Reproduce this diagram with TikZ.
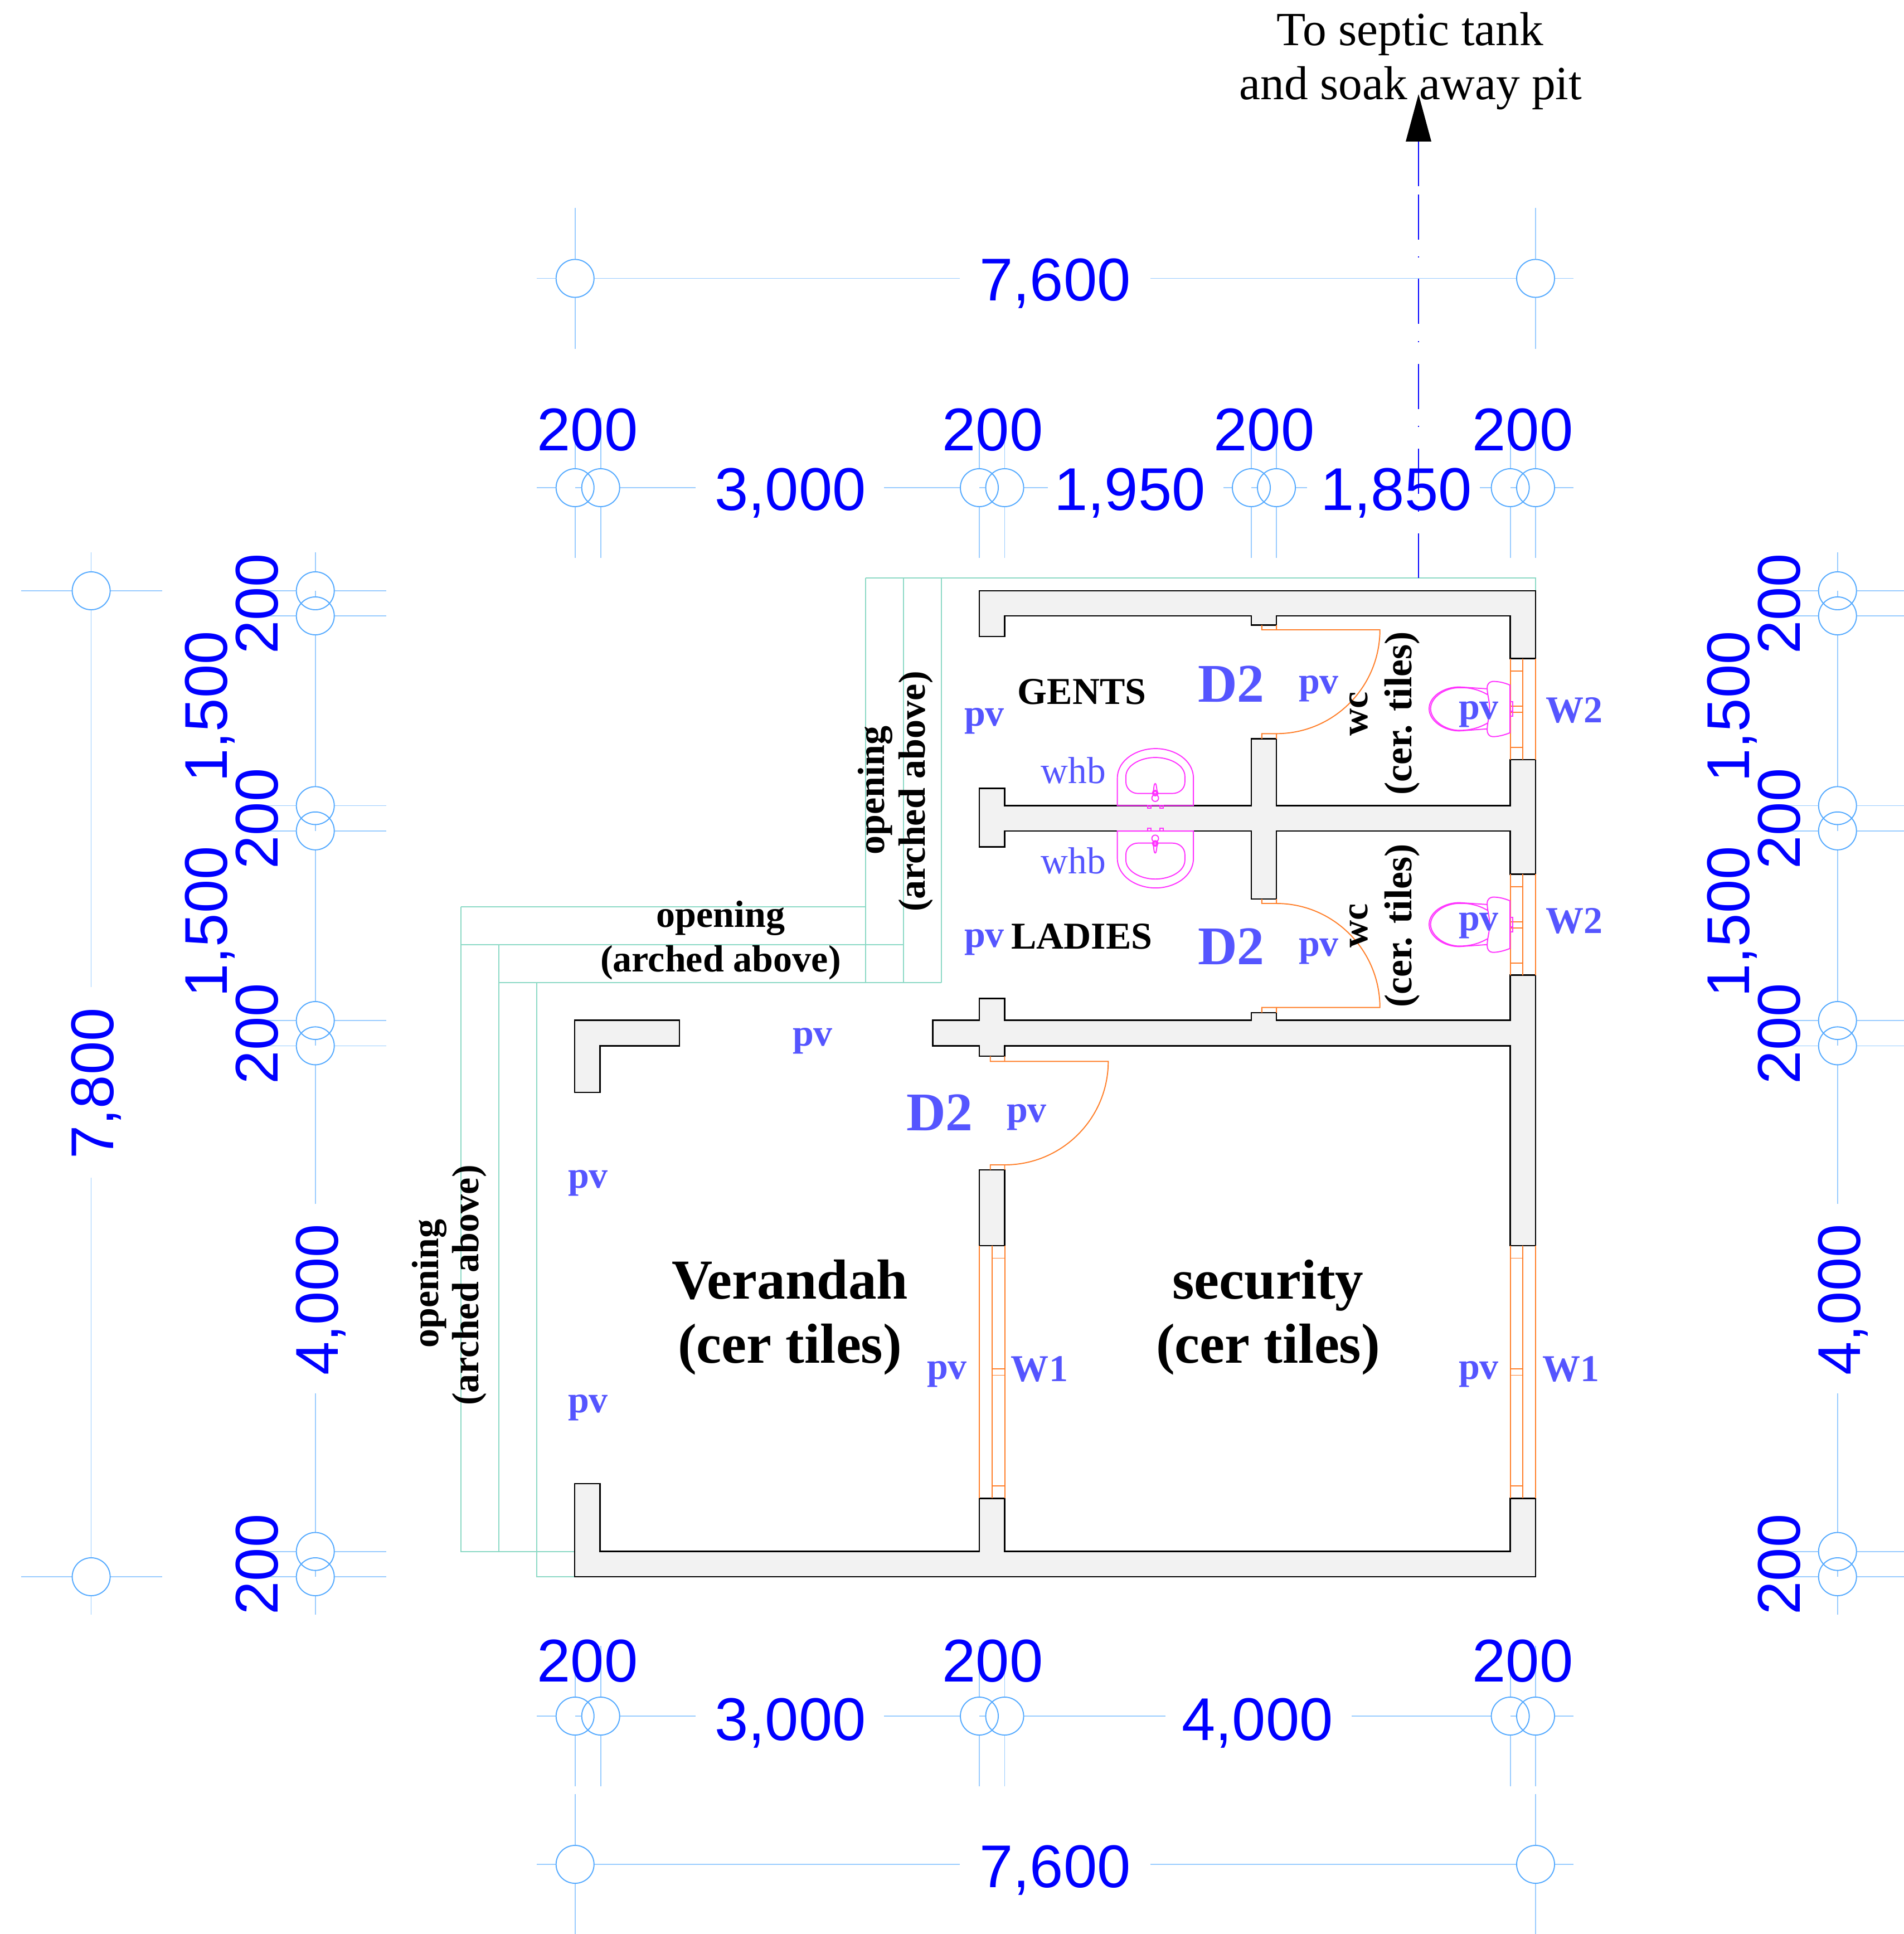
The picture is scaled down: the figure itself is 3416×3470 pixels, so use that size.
\documentclass[tikz,border=0pt]{standalone}
\usepackage{fontspec}
\setmainfont{Liberation Serif}
\newfontfamily\dimfont{Liberation Sans}
\definecolor{dimline}{HTML}{99CCFF}
\definecolor{dimcirc}{HTML}{55AAFF}
\definecolor{dimtext}{HTML}{0000FF}
\definecolor{labelblue}{HTML}{5555FF}
\definecolor{wallfill}{HTML}{F2F2F2}
\definecolor{joinery}{HTML}{FF7F2A}
\definecolor{fixture}{HTML}{FF33FF}
\definecolor{teal}{HTML}{8CD9C5}
\tikzset{
  wall/.style={draw=black,fill=wallfill,line width=0.72pt,line join=miter},
  dline/.style={draw=dimline,line width=0.5pt},
  dcirc/.style={draw=dimcirc,line width=0.55pt},
  frame/.style={draw=joinery,line width=0.55pt},
  sani/.style={draw=fixture,line width=0.55pt},
  open/.style={draw=teal,line width=0.5pt},
  txt/.style={inner sep=0pt,outer sep=0pt,anchor=base,align=center},
  dimt/.style={txt,text=dimtext,font=\dimfont\fontsize{30.8}{30.8}\selectfont},
  pvt/.style={txt,text=labelblue,font=\bfseries\fontsize{19.35}{19.35}\selectfont},
  doort/.style={txt,text=labelblue,font=\bfseries\fontsize{27.8}{27.8}\selectfont},
  whbt/.style={txt,text=labelblue,font=\fontsize{19.2}{19.2}\selectfont},
  roomt/.style={txt,font=\bfseries\fontsize{19.35}{19.35}\selectfont},
  tilet/.style={txt,font=\bfseries\fontsize{19.8}{19.8}\selectfont},
  bigt/.style={txt,font=\bfseries\fontsize{28.8}{28.8}\selectfont},
  notet/.style={txt,font=\fontsize{24.3}{24.3}\selectfont},
}
\newcount\lblcount
\newcommand\lbl[4][]{\global\advance\lblcount by 1 \node[#1] (n\the\lblcount) at (#2,#3) {#4};}
% vertical-ext tick for a horizontal dimension
\newcommand\htick[2]{%
  \draw[dline] (#1,#2-126)--(#1,#2-34) (#1,#2+34)--(#1,#2+126);
  \draw[dcirc] (#1,#2) circle[radius=0.34cm];}
% horizontal-ext tick for a vertical dimension
\newcommand\vtick[2]{%
  \draw[dline] (#1-126,#2)--(#1-34,#2) (#1+34,#2)--(#1+127,#2);
  \draw[dcirc] (#1,#2) circle[radius=0.34cm];}
\newcommand\sinkshape{%
  \draw[sani] (14,737)--(14,590) .. controls (14,490) and (120,430) .. (220,430) .. controls (320,430) and (424,490) .. (424,590)--(424,737)--cycle;
  \draw[sani] (60,580) .. controls (60,520) and (140,478) .. (218,478) .. controls (300,478) and (378,520) .. (378,580)--(378,610) .. controls (378,645) and (350,672) .. (310,672)--(125,672) .. controls (90,672) and (60,645) .. (60,610)--cycle;
  \draw[sani] (206,680)--(212,630) .. controls (214,615) and (222,615) .. (224,630)--(231,680);
  \draw[sani] (218,697) circle[radius=0.06cm];
  \draw[sani] (218,670) circle[radius=0.05cm];
  \draw[sani] (210,662) rectangle (226,680);
  \draw[sani] (176,737) rectangle (194,751);
  \draw[sani] (244,737) rectangle (262,751);}
\newcommand\wcshape{%
  \draw[sani] (478,238) .. controls (440,222) and (410,218) .. (385,218) .. controls (365,220) and (355,235) .. (355,250) .. controls (355,290) and (368,320) .. (368,365) .. controls (368,410) and (355,440) .. (355,480) .. controls (355,500) and (365,515) .. (385,516) .. controls (410,516) and (440,510) .. (478,495)--cycle;
  \draw[sani] (355,258)--(205,248) .. controls (120,248) and (42,300) .. (42,365) .. controls (42,430) and (120,485) .. (205,485)--(355,474);
  \draw[sani] (358,290) .. controls (310,262) and (260,250) .. (205,252) .. controls (125,252) and (50,305) .. (50,365) .. controls (50,425) and (125,482) .. (205,482) .. controls (260,482) and (310,470) .. (358,442);
  \draw[sani] (478,328) rectangle (492,407);
  \draw[sani] (478,378)--(492,378);}
\begin{document}
\begin{tikzpicture}[x=0.01cm,y=-0.01cm]
\useasboundingbox (0,0) rectangle (3416,3470);
\clip (0,0) rectangle (3416,3470);
% ---- opening outlines
\draw[open] (1553,1037)--(2755,1037)--(2755,1060);
\draw[open] (1553,1037)--(1553,1763) (1621,1037)--(1621,1763) (1689,1037)--(1689,1763);
\draw[open] (827,1627)--(1553,1627) (827,1695)--(1621,1695) (895,1763)--(1689,1763);
\draw[open] (827,1627)--(827,2783.6)--(1031,2783.6);
\draw[open] (895,1695)--(895,2783.6);
\draw[open] (963,1763)--(963,2829)--(1031,2829);
% ---- drainage line
\draw[draw=dimtext,line width=0.72pt]
  (2545,1037)--(2545,957) (2545,918)--(2545,916)
  (2545,886)--(2545,805) (2545,766)--(2545,764)
  (2545,734)--(2545,653) (2545,614)--(2545,612)
  (2545,581)--(2545,500) (2545,462)--(2545,460)
  (2545,430)--(2545,349) (2545,334)--(2545,254);
\fill[black] (2545,169)--(2568,254)--(2522,254)--cycle;
% ---- horizontal dimensions, row 1 (top)
\draw[dline] (963,499.5)--(997,499.5) (1065,499.5)--(1722,499.5) (2064,499.5)--(2721,499.5) (2789,499.5)--(2823,499.5);
\foreach \x in {1031.7,2755} {\htick{\x}{499.5}}
% row 2
\draw[dline] (963,875)--(997.7,875) (1031.7,875)--(1043.7,875) (1111.7,875)--(1248,875)
  (1586,875)--(1723,875) (1757,875)--(1768.5,875) (1836.5,875)--(1880,875)
  (2195,875)--(2211,875) (2245,875)--(2256,875) (2324,875)--(2345,875)
  (2655,875)--(2675.6,875) (2709.6,875)--(2721,875) (2789,875)--(2823,875);
\foreach \x in {1031.7,1077.7,1757,1802.5,2245,2290,2709.6,2755} {\htick{\x}{875}}
% bottom row 1
\draw[dline] (963,3079)--(997.7,3079) (1031.7,3079)--(1043.7,3079) (1111.7,3079)--(1248,3079)
  (1586,3079)--(1723,3079) (1757,3079)--(1768.5,3079) (1836.5,3079)--(2091,3079)
  (2425,3079)--(2675.6,3079) (2709.6,3079)--(2721,3079) (2789,3079)--(2823,3079);
\foreach \x in {1031.7,1077.7,1757,1802.5,2709.6,2755} {\htick{\x}{3079}}
% bottom row 2
\draw[dline] (963,3345)--(997,3345) (1065,3345)--(1722,3345) (2064,3345)--(2721,3345) (2789,3345)--(2823,3345);
\foreach \x in {1031.7,2755} {\htick{\x}{3345}}
% vertical dimensions, far left
\draw[dline] (163.6,991)--(163.6,1026) (163.6,1094)--(163.6,1771) (163.6,2113)--(163.6,2795) (163.6,2863)--(163.6,2897);
\foreach \y in {1060,2829} {\vtick{163.6}{\y}}
% second column (left) and its mirror (right)
\foreach \cx in {565.7,3296.7} {
  \draw[dline] (\cx,991)--(\cx,1026) (\cx,1060)--(\cx,1071) (\cx,1139)--(\cx,1411)
    (\cx,1479)--(\cx,1491) (\cx,1525)--(\cx,1797) (\cx,1865)--(\cx,1876)
    (\cx,1910)--(\cx,2160) (\cx,2500)--(\cx,2749.6) (\cx,2817)--(\cx,2829) (\cx,2863)--(\cx,2897);
  \foreach \y in {1060,1105,1445.4,1490.8,1831,1876.4,2783.6,2829} {\vtick{\cx}{\y}}
}
% ---- walls
\draw[wall] (1757,1060)--(2755,1060)--(2755,1181.5)--(2709.6,1181.5)--(2709.6,1105)--(2290,1105)--(2290,1121.7)--(2245,1121.7)--(2245,1105)--(1802.5,1105)--(1802.5,1142)--(1757,1142)--cycle;
\draw[wall] (1757,1414.4)--(1802.5,1414.4)--(1802.5,1445.4)--(2245,1445.4)--(2245,1325.5)--(2290,1325.5)--(2290,1445.4)--(2709.6,1445.4)--(2709.6,1362.8)--(2755,1362.8)--(2755,1568.3)--(2709.6,1568.3)--(2709.6,1490.8)--(2290,1490.8)--(2290,1613)--(2245,1613)--(2245,1490.8)--(1802.5,1490.8)--(1802.5,1519.5)--(1757,1519.5)--cycle;
\draw[wall] (1673.3,1830.7)--(1757,1830.7)--(1757,1791.5)--(1802.5,1791.5)--(1802.5,1830.7)--(2245,1830.7)--(2245,1816.8)--(2290,1816.8)--(2290,1830.7)--(2709.6,1830.7)--(2709.6,1749.6)--(2755,1749.6)--(2755,2235)--(2709.6,2235)--(2709.6,1876.4)--(1802.5,1876.4)--(1802.5,1895)--(1757,1895)--(1757,1876.4)--(1673.3,1876.4)--cycle;
\draw[wall] (1757,2099)--(1802.5,2099)--(1802.5,2235)--(1757,2235)--cycle;
\draw[wall] (1031,1830.7)--(1219,1830.7)--(1219,1876.4)--(1076.5,1876.4)--(1076.5,1960)--(1031,1960)--cycle;
\draw[wall] (1031,2662)--(1076.5,2662)--(1076.5,2783.6)--(1757,2783.6)--(1757,2688.4)--(1802.5,2688.4)--(1802.5,2783.6)--(2709.6,2783.6)--(2709.6,2688.4)--(2755,2688.4)--(2755,2829)--(1031,2829)--cycle;
% ---- doors
\draw[frame] (2263.8,1121.7)--(2263.8,1130)--(2475.7,1130) .. controls (2475.7,1232.6) and (2392.6,1316.3) .. (2290,1316.3)--(2263.8,1316.3)--(2263.8,1325.5) (2290,1121.7)--(2290,1130) (2290,1325.5)--(2290,1316.3);
\draw[frame] (2263.8,1816.8)--(2263.8,1807.6)--(2475.7,1807.6) .. controls (2475.7,1705) and (2392.6,1621) .. (2290,1621)--(2263.8,1621)--(2263.8,1613) (2290,1816.8)--(2290,1807.6) (2290,1613)--(2290,1621);
\draw[frame] (1776.7,1895)--(1776.7,1904.3)--(1988.3,1904.3) .. controls (1988.3,2006.9) and (1905.1,2090) .. (1802.5,2090)--(1776.7,2090)--(1776.7,2099) (1802.5,1895)--(1802.5,1904.3) (1802.5,2099)--(1802.5,2090);
% ---- windows
\draw[frame] (1757.3,2235)--(1757.3,2688.4) (1780,2235)--(1780,2688.4) (1802.7,2235)--(1802.7,2688.4);
\foreach \y in {2257.5,2456,2467.5,2666} {\draw[frame] (1780,\y)--(1802.7,\y);}
\draw[frame] (2709.6,2235)--(2709.6,2688.4) (2732.3,2235)--(2732.3,2688.4) (2755,2235)--(2755,2688.4);
\foreach \y in {2257.5,2456,2467.5,2666} {\draw[frame] (2709.6,\y)--(2732.3,\y);}
\draw[frame] (2709.6,1181.5)--(2709.6,1362.8) (2732.3,1181.5)--(2732.3,1362.8) (2755,1181.5)--(2755,1362.8);
\foreach \y in {1204,1266.7,1278,1340.7} {\draw[frame] (2709.6,\y)--(2732.3,\y);}
\draw[frame] (2709.6,1568.3)--(2709.6,1749.6) (2732.3,1568.3)--(2732.3,1749.6) (2755,1568.3)--(2755,1749.6);
\foreach \y in {1591,1653.7,1665,1727.7} {\draw[frame] (2709.6,\y)--(2732.3,\y);}
% ---- sanitary fixtures
\begin{scope}[shift={(2000,1200)},x=0.003333cm,y=-0.003333cm]\sinkshape\end{scope}
\begin{scope}[shift={(2000,1736.3)},x=0.003333cm,y=0.003333cm]\sinkshape\end{scope}
\begin{scope}[shift={(2550,1150)},x=0.003333cm,y=-0.003333cm]\wcshape\end{scope}
\begin{scope}[shift={(2550,1537)},x=0.003333cm,y=-0.003333cm]\wcshape\end{scope}
% ---- dimension texts
\lbl[dimt]{1893}{539}{7,600}
\lbl[dimt]{1893}{3386}{7,600}
\foreach \x in {1054,1781,2268,2732} {\lbl[dimt]{\x}{808}{200}}
\lbl[dimt]{1418}{915}{3,000}
\lbl[dimt]{2027}{915}{1,950}
\lbl[dimt]{2505}{915}{1,850}
\foreach \x in {1054,1781,2732} {\lbl[dimt]{\x}{3017}{200}}
\lbl[dimt]{1418}{3122}{3,000}
\lbl[dimt]{2256}{3122}{4,000}
\lbl[dimt,rotate=90]{203}{1944}{7,800}
\foreach \s in {0,2731} {
  \foreach \y in {1083.6,1469,1854.7,2807} {\lbl[dimt,rotate=90]{498.7+\s}{\y}{200}}
  \foreach \y in {1268,1654} {\lbl[dimt,rotate=90]{407+\s}{\y}{1,500}}
  \lbl[dimt,rotate=90]{606+\s}{2332}{4,000}
}
% ---- blue labels
\lbl[pvt]{1766}{1302}{pv}
\lbl[pvt]{2366}{1244}{pv}
\lbl[pvt]{2653}{1290}{pv}
\lbl[pvt]{1766}{1699}{pv}
\lbl[pvt]{2366}{1715}{pv}
\lbl[pvt]{2653}{1669}{pv}
\lbl[pvt]{1458}{1876}{pv}
\lbl[pvt]{1842}{2013}{pv}
\lbl[pvt]{1055}{2131}{pv}
\lbl[pvt]{1055}{2534}{pv}
\lbl[pvt]{1699}{2474.5}{pv}
\lbl[pvt]{2653}{2474.5}{pv}
\lbl[pvt]{2824}{1296}{W2}
\lbl[pvt]{2824}{1674}{W2}
\lbl[pvt]{1865}{2478}{W1}
\lbl[pvt]{2818}{2478}{W1}
\lbl[doort]{2209}{1259}{D2}
\lbl[doort]{2209}{1730}{D2}
\lbl[doort]{1686}{2028}{D2}
\lbl[whbt]{1926}{1405}{whb}
\lbl[whbt]{1926}{1567}{whb}
% ---- black labels
\lbl[roomt]{1941}{1263}{GENTS}
\lbl[roomt]{1941}{1702}{LADIES}
\lbl[roomt,rotate=90]{2453.5}{1281}{wc}
\lbl[tilet,rotate=90]{2532}{1280}{(cer. tiles)}
\lbl[roomt,rotate=90]{2453.5}{1661}{wc}
\lbl[tilet,rotate=90]{2532}{1661}{(cer. tiles)}
\lbl[roomt]{1293}{1663}{opening}
\lbl[roomt]{1293}{1743}{(arched above)}
\lbl[roomt,rotate=90]{1586}{1418}{opening}
\lbl[roomt,rotate=90]{1659}{1420}{(arched above)}
\lbl[roomt,rotate=90]{786}{2303}{opening}
\lbl[roomt,rotate=90]{858}{2306}{(arched above)}
\lbl[bigt]{1417}{2330}{Verandah}
\lbl[bigt]{1417}{2445}{(cer tiles)}
\lbl[bigt]{2275}{2330}{security}
\lbl[bigt]{2275}{2445}{(cer tiles)}
\lbl[notet]{2530}{82}{To septic tank}
\lbl[notet]{2531}{179}{and soak away pit}
\end{tikzpicture}
\end{document}
